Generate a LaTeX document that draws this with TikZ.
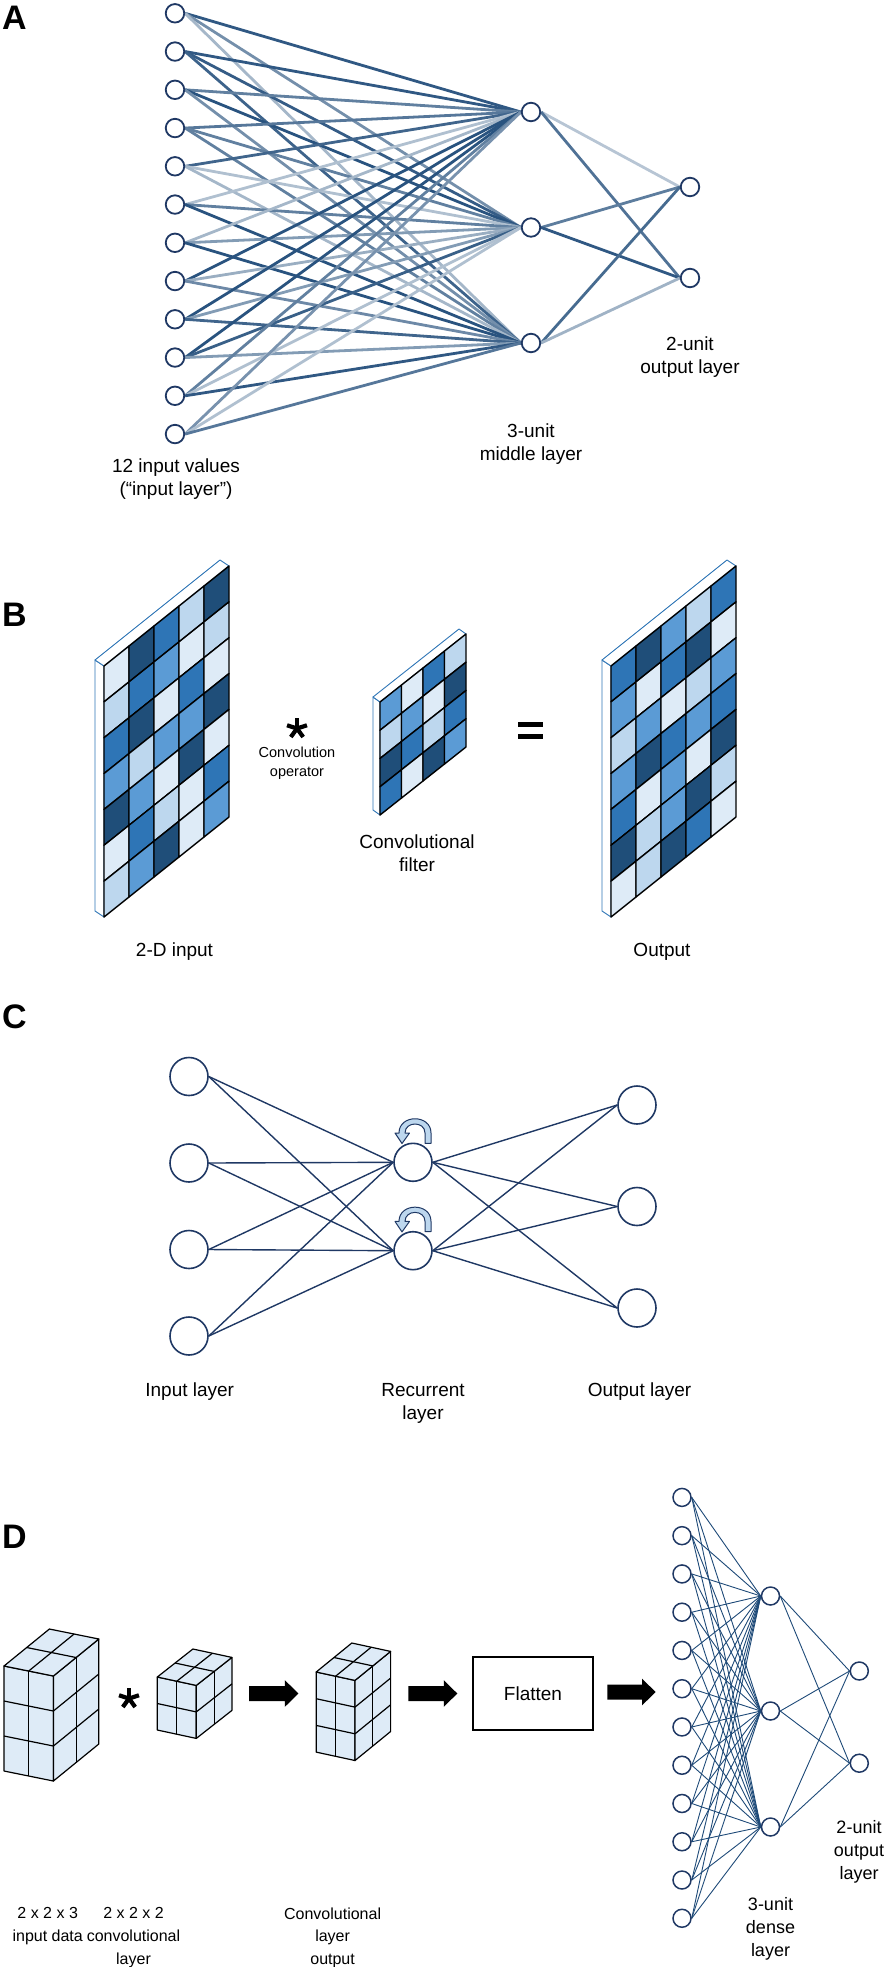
\documentclass[tikz,border=0pt]{standalone}
\usepackage{fontspec}
\setmainfont{Liberation Sans}
\definecolor{navy}{RGB}{31,56,100}
\definecolor{lb}{RGB}{30,74,120}
\definecolor{shA}{HTML}{DEEBF7}
\definecolor{shB}{HTML}{BDD7EE}
\definecolor{shC}{HTML}{5B9BD5}
\definecolor{shD}{HTML}{2E75B6}
\definecolor{shE}{HTML}{1F4E79}
\definecolor{slabline}{HTML}{2E75B6}
\definecolor{loopfill}{HTML}{BDD7EE}
\pgfdeclarelayer{bg}
\pgfsetlayers{bg,main}

% parallelogram grid of coloured cells: x0, y0, ux, uy, vy, column colour lists
\newcommand\cellgrid[6]{%
  \foreach \colist [count=\i from 0] in {#6} {
    \foreach \cc [count=\k from 0] in \colist {
      \filldraw[cellst, fill=\cc]
        ({#1+\i*(#3)},{#2+\i*(#4)+\k*(#5)}) --
        ({#1+(\i+1)*(#3)},{#2+(\i+1)*(#4)+\k*(#5)}) --
        ({#1+(\i+1)*(#3)},{#2+(\i+1)*(#4)+(\k+1)*(#5)}) --
        ({#1+\i*(#3)},{#2+\i*(#4)+(\k+1)*(#5)}) -- cycle;
    }
  }%
}
% 2 x 2 x n cube: fx fy wx wy dx dy h n
\newcommand\cubeD[8]{%
  \filldraw[cubest, fill=shA] (#1,#2) -- ({#1+2*(#3)},{#2+2*(#4)}) -- ({#1+2*(#3)},{#2+2*(#4)+#8*(#7)}) -- (#1,{#2+#8*(#7)}) -- cycle;
  \filldraw[cubest, fill=shA] ({#1+2*(#3)},{#2+2*(#4)}) -- ({#1+2*(#3)+2*(#5)},{#2+2*(#4)+2*(#6)}) -- ({#1+2*(#3)+2*(#5)},{#2+2*(#4)+2*(#6)+#8*(#7)}) -- ({#1+2*(#3)},{#2+2*(#4)+#8*(#7)}) -- cycle;
  \filldraw[cubest, fill=shA] (#1,#2) -- ({#1+2*(#3)},{#2+2*(#4)}) -- ({#1+2*(#3)+2*(#5)},{#2+2*(#4)+2*(#6)}) -- ({#1+2*(#5)},{#2+2*(#6)}) -- cycle;
  \draw[cubest] ({#1+(#3)},{#2+(#4)}) -- ++(0,{#8*(#7)});
  \draw[cubest] ({#1+2*(#3)+(#5)},{#2+2*(#4)+(#6)}) -- ++(0,{#8*(#7)});
  \draw[cubest] ({#1+(#3)},{#2+(#4)}) -- ({#1+(#3)+2*(#5)},{#2+(#4)+2*(#6)});
  \draw[cubest] ({#1+(#5)},{#2+(#6)}) -- ({#1+(#5)+2*(#3)},{#2+(#6)+2*(#4)});
  \pgfmathtruncatemacro\nhm{#8-1}
  \foreach \k in {1,...,\nhm} {
    \draw[cubest] (#1,{#2+\k*(#7)}) -- ({#1+2*(#3)},{#2+2*(#4)+\k*(#7)});
    \draw[cubest] ({#1+2*(#3)},{#2+2*(#4)+\k*(#7)}) -- ({#1+2*(#3)+2*(#5)},{#2+2*(#4)+2*(#6)+\k*(#7)});
  }%
}
% block arrow: x0 x1 y
\newcommand\blockarrow[3]{%
  \fill[black] (#1,{#3-7.5}) -- ({#2-13.5},{#3-7.5}) -- ({#2-13.5},{#3-13.3}) -- (#2,#3) -- ({#2-13.5},{#3+13.3}) -- ({#2-13.5},{#3+7.5}) -- (#1,{#3+7.5}) -- cycle;%
}
% five-armed asterisk: x y
\newcommand\astar[2]{%
  \foreach \a in {270,342,54,126,198} \draw[line width=4.2pt] (#1,#2) -- ++(\a:10.5);%
}

\begin{document}
\begin{tikzpicture}[x=1pt,y=-1pt,
  nA/.style={circle, draw=navy, line width=1.8pt, fill=white, minimum size=18.5pt, inner sep=0pt},
  eA/.style={line width=2.8pt},
  nC/.style={circle, draw=navy, line width=1.6pt, fill=white, minimum size=38pt, inner sep=0pt},
  eC/.style={draw=navy, line width=1.4pt},
  nD/.style={circle, draw=navy, line width=1.5pt, fill=white, minimum size=18pt, inner sep=0pt},
  eD/.style={draw=lb, line width=0.9pt},
  lbl/.style={font=\fontsize{19}{23}\selectfont, align=center, inner sep=0pt},
  lblD/.style={font=\fontsize{18}{23}\selectfont, align=center, inner sep=0pt},
  lblE/.style={font=\fontsize{16}{22.6}\selectfont, align=center, inner sep=0pt},
  lbls/.style={font=\fontsize{14.5}{19}\selectfont, align=center, inner sep=0pt},
  plet/.style={font=\fontsize{34}{34}\selectfont\bfseries, anchor=base west, inner sep=0pt},
  cellst/.style={draw=black, line width=1.4pt, line join=round},
  slabst/.style={draw=slabline, fill=white, line width=0.9pt, line join=round},
  cubest/.style={draw=black, line width=1.2pt, line join=round},
]
\useasboundingbox (0,0) rectangle (891,1967);

% ================= Panel A =================
\node[plet] (letA) at (2,30) {A};
\foreach \i in {1,...,12} \node[nA] (a\i) at (175,{13.3+(\i-1)*38.25}) {};
\node[nA] (m1) at (531,112) {};
\node[nA] (m2) at (531,227.5) {};
\node[nA] (m3) at (531,343) {};
\node[nA] (o1) at (690,187) {};
\node[nA] (o2) at (690,278) {};
\begin{pgfonlayer}{bg}
\foreach \i/\p/\q/\r in {1/92/62/40,2/92/90/86,3/70/95/62,4/75/70/70,5/85/35/40,6/35/70/95,7/40/55/95,8/95/45/65,9/95/55/85,10/95/88/55,11/70/35/92,12/60/35/75} {
  \draw[eA, lb!\p] (a\i.east) -- (m1.west);
  \draw[eA, lb!\q] (a\i.east) -- (m2.west);
  \draw[eA, lb!\r] (a\i.east) -- (m3.west);
}
\draw[eA, lb!32] (m1.east) -- (o1.west);
\draw[eA, lb!78] (m1.east) -- (o2.west);
\draw[eA, lb!72] (m2.east) -- (o1.west);
\draw[eA, lb!92] (m2.east) -- (o2.west);
\draw[eA, lb!82] (m3.east) -- (o1.west);
\draw[eA, lb!42] (m3.east) -- (o2.west);
\end{pgfonlayer}
\node[lbl] (labA1) at (176,479) {12 input values\\(“input layer”)};
\node[lbl] (labA2) at (531,444) {3-unit\\middle layer};
\node[lbl] (labA3) at (690,357) {2-unit\\output layer};

% ================= Panel B =================
\node[plet] (letB) at (2,626) {B};
% 2-D input
\filldraw[slabst] (104,666) -- (104,917) -- (95,911) -- (95,660) -- cycle;
\filldraw[slabst] (104,666) -- (229,566) -- (220,560) -- (95,660) -- cycle;
\cellgrid{104}{666}{25}{-20}{35.857}{{shA,shB,shD,shC,shE,shA,shB},{shE,shD,shE,shB,shC,shD,shC},{shD,shC,shA,shC,shA,shB,shE},{shB,shA,shD,shC,shE,shA,shA},{shE,shB,shA,shE,shA,shD,shC}}
% filter
\filldraw[slabst] (380,702) -- (380,815) -- (373,810) -- (373,697) -- cycle;
\filldraw[slabst] (380,702) -- (466,634) -- (459,629) -- (373,697) -- cycle;
\cellgrid{380}{702}{21.5}{-17}{28.25}{{shC,shB,shE,shD},{shA,shC,shD,shA},{shD,shA,shB,shE},{shB,shE,shD,shC}}
% output
\filldraw[slabst] (611,666) -- (611,917) -- (602,911) -- (602,660) -- cycle;
\filldraw[slabst] (611,666) -- (736,566) -- (727,560) -- (602,660) -- cycle;
\cellgrid{611}{666}{25}{-20}{35.857}{{shD,shC,shB,shC,shD,shE,shA},{shE,shA,shC,shE,shA,shB,shB},{shC,shD,shA,shD,shC,shC,shE},{shB,shE,shB,shC,shA,shE,shD},{shD,shA,shC,shD,shE,shB,shA}}
\astar{297}{728.5}
\node[lbls] (labB0) at (297,763.5) {Convolution\\operator};
\fill[black] (517.5,721.5) rectangle (542.5,726.5);
\fill[black] (517.5,733.5) rectangle (542.5,738.5);
\node[lbl] (labB1) at (174.5,952) {2-D input};
\node[lbl] (labB2) at (417,853) {Convolutional\\filter};
\node[lbl] (labB3) at (662,952) {Output};

% ================= Panel C =================
\node[plet] (letC) at (2,1028) {C};
\foreach \i in {1,...,4} \node[nC] (ci\i) at (189,{1076.5+(\i-1)*86.5}) {};
\node[nC] (cr1) at (413,1162.3) {};
\node[nC] (cr2) at (413,1250.7) {};
\foreach \i in {1,2,3} \node[nC] (co\i) at (637,{1105+(\i-1)*101.5}) {};
\foreach \i in {1,...,4} {
  \draw[eC] (ci\i.east) -- (cr1.west);
  \draw[eC] (ci\i.east) -- (cr2.west);
}
\foreach \j in {1,2,3} {
  \draw[eC] (cr1.east) -- (co\j.west);
  \draw[eC] (cr2.east) -- (co\j.west);
}
\foreach \o in {0,88.4} {
  \begin{scope}[shift={(0,\o)}]
  \filldraw[fill=loopfill, draw=navy, line width=1pt, line join=round]
    (431,1143.3) -- (431,1133) .. controls (431,1114) and (399,1114) .. (399,1133)
    -- (395,1133) -- (402,1143.5) -- (409.5,1133) -- (405,1133)
    .. controls (405,1121) and (425,1121) .. (425,1133) -- (425,1143.3) -- cycle;
  \end{scope}
}
\node[lbl] (labC1) at (189.7,1391.7) {Input layer};
\node[lbl] (labC2) at (423,1403) {Recurrent\\layer};
\node[lbl] (labC3) at (639.5,1391.7) {Output layer};

% ================= Panel D =================
\node[plet] (letD) at (2,1548) {D};
\cubeD{4}{1666}{24.7}{5}{22.7}{-18.5}{35}{3}
\astar{129}{1698.5}
\cubeD{157.3}{1677}{19.5}{4.2}{17.8}{-14}{26.5}{2}
\blockarrow{249}{298.4}{1693.5}
\cubeD{316.2}{1672}{19.4}{4.2}{17.8}{-14.5}{26.7}{3}
\blockarrow{408.3}{457.3}{1693.5}
\node[draw, line width=1.3pt, minimum width=120pt, minimum height=73pt, inner sep=0pt, font=\fontsize{19}{23}\selectfont] (flat) at (533,1693.5) {Flatten};
\blockarrow{607.3}{655.6}{1692}
\foreach \i in {1,...,12} \node[nD] (d\i) at (682,{1497.4+(\i-1)*38.26}) {};
\node[nD] (dm1) at (770.5,1596) {};
\node[nD] (dm2) at (770.5,1711) {};
\node[nD] (dm3) at (770.5,1827) {};
\node[nD] (do1) at (859.3,1671) {};
\node[nD] (do2) at (859.3,1763.2) {};
\begin{pgfonlayer}{bg}
\foreach \i in {1,...,12} \foreach \j in {1,2,3} \draw[eD] (d\i.east) -- (dm\j.west);
\foreach \j in {1,2,3} \foreach \k in {1,2} \draw[eD] (dm\j.east) -- (do\k.west);
\end{pgfonlayer}
\node[lblE] (labD1) at (47.7,1926) {2 x 2 x 3\\input data};
\node[lblE] (labD2) at (133.5,1937.5) {2 x 2 x 2\\convolutional\\layer};
\node[lblE] (labD3) at (332.6,1937.5) {Convolutional\\layer\\output};
\node[lblD] (labD4) at (770.5,1928.7) {3-unit\\dense\\layer};
\node[lblD] (labD5) at (859,1852) {2-unit\\output\\layer};
\end{tikzpicture}
\end{document}
